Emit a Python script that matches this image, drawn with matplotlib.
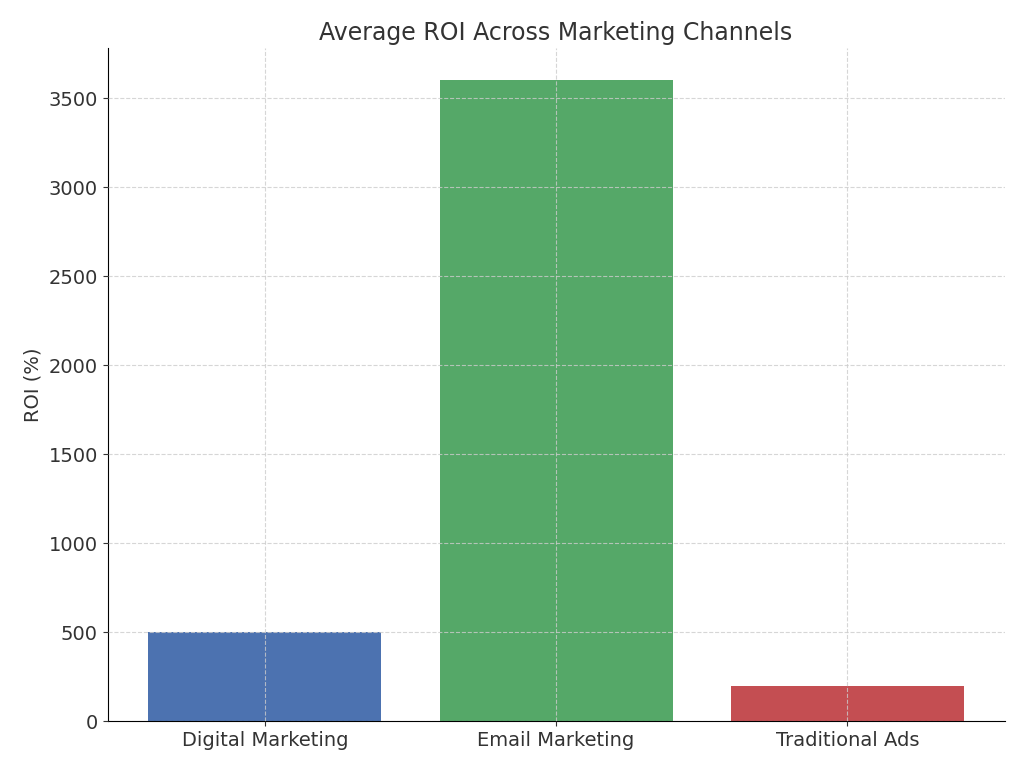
import matplotlib.pyplot as plt

channels = ["Digital Marketing", "Email Marketing", "Traditional Ads"]
roi = [500, 3600, 200]
colors = ["#4C72B0", "#55A868", "#C44E52"]

fig, ax = plt.subplots(figsize=(10.24, 7.68), dpi=100)
fig.subplots_adjust(left=0.105, right=0.981, top=0.937, bottom=0.061)

ax.bar(channels, roi, color=colors, width=0.8)
ax.set_title("Average ROI Across Marketing Channels", fontsize=17, color="#333333")
ax.set_ylabel("ROI (%)", fontsize=14, color="#333333")
ax.tick_params(labelsize=14, colors="#333333")
ax.set_ylim(0, 3780)
ax.set_axisbelow(False)
ax.grid(True, linestyle="--", color="#cccccc", linewidth=0.8, alpha=0.8)
for s in ["top", "right"]:
    ax.spines[s].set_visible(False)

fig.savefig("out.png")
